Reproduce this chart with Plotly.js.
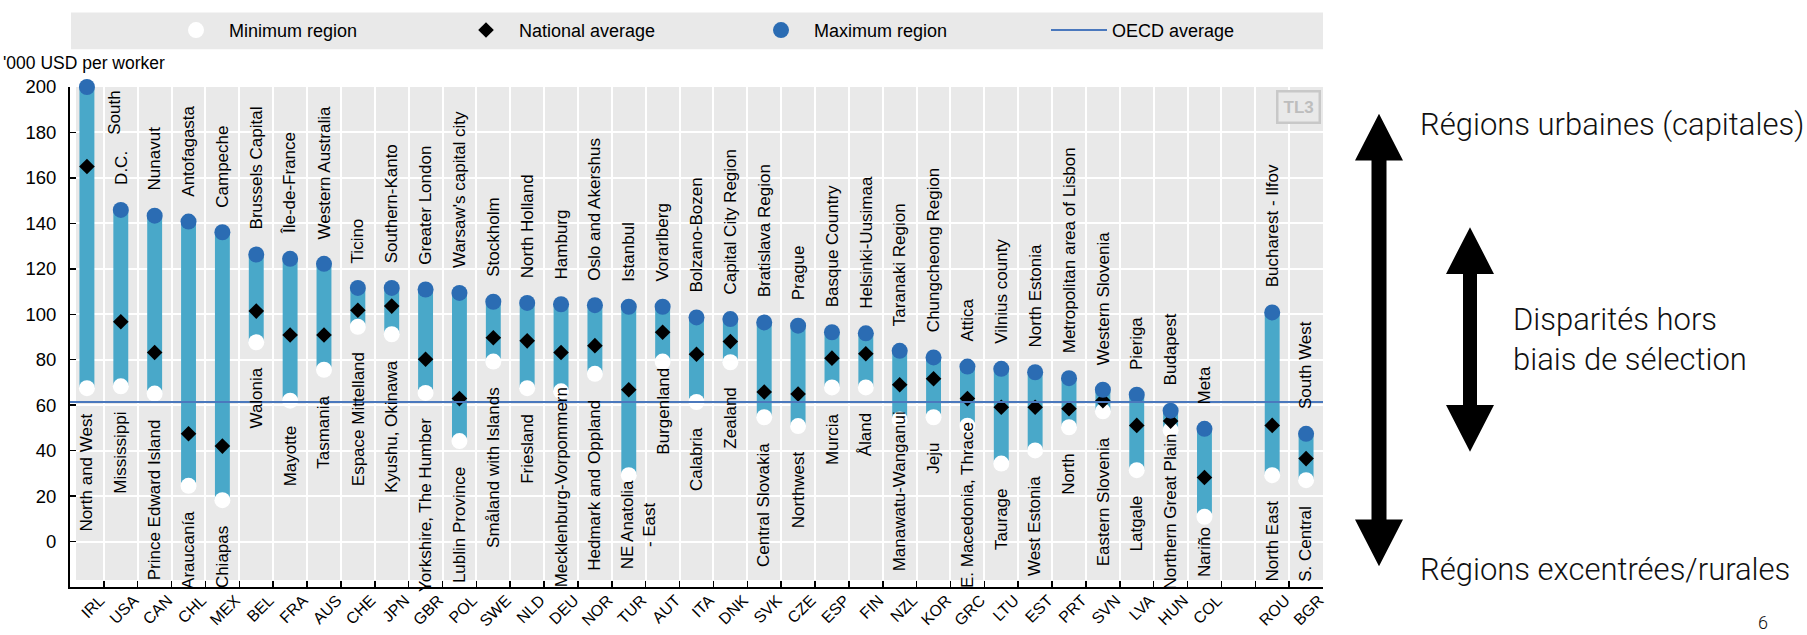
<!DOCTYPE html>
<html><head><meta charset="utf-8">
<script src="https://cdn.plot.ly/plotly-3.0.1.min.js"></script>
<style>html,body{margin:0;padding:0;background:#fff;} #chart{width:1807px;height:635px;}</style>
</head><body><div id="chart"></div>
<script>
// ---------------- DATA ----------------
const countries = ["IRL","USA","CAN","CHL","MEX","BEL","FRA","AUS","CHE","JPN","GBR","POL","SWE","NLD","DEU","NOR","TUR","AUT","ITA","DNK","SVK","CZE","ESP","FIN","NZL","KOR","GRC","LTU","EST","PRT","SVN","LVA","HUN","COL"," ","ROU","BGR"];
const minRegion   = [67.5,68.3,65.1,24.5,18.2,87.7,62.0,75.6,94.5,91.2,65.4,44.2,79.2,67.5,66.1,73.8,29.2,79.2,61.4,78.9,54.7,50.8,67.8,67.8,53.7,54.7,51.0,34.3,40.1,50.3,57.3,31.4,49.0,10.9,null,29.2,27.0];
const nationalAvg = [165.0,96.7,83.2,47.4,42.0,101.4,90.9,90.9,101.8,103.6,80.2,62.9,89.7,88.3,83.2,86.2,66.8,92.1,82.4,88.0,65.8,64.9,80.7,82.6,69.0,71.6,62.9,59.1,59.1,58.4,62.0,51.1,53.0,28.2,null,51.1,36.5];
const maxRegion   = [200.0,145.9,143.4,140.8,136.1,126.3,124.4,122.2,111.6,111.6,110.9,109.4,105.5,105.0,104.4,104.0,103.3,103.3,98.6,97.9,96.4,95.0,92.1,91.6,83.9,81.0,77.0,76.0,74.5,71.9,66.8,64.6,57.6,49.6,null,100.8,47.4];
const maxRegionNames = ["South","D.C.","Nunavut","Antofagasta","Campeche","Brussels Capital","Île-de-France","Western Australia","Ticino","Southern-Kanto","Greater London","Warsaw's capital city","Stockholm","North Holland","Hamburg","Oslo and Akershus","Istanbul","Vorarlberg","Bolzano-Bozen","Capital City Region","Bratislava Region","Prague","Basque Country","Helsinki-Uusimaa","Taranaki Region","Chungcheong Region","Attica","Vilnius county","North Estonia","Metropolitan area of Lisbon","Western Slovenia","Pieriga","Budapest","Meta",null,"Bucharest - Ilfov","South West"];
const minRegionNames = ["North and West","Mississippi","Prince Edward Island","Araucanía","Chiapas","Walonia","Mayotte","Tasmania","Espace Mittelland","Kyushu, Okinawa","Yorkshire, The Humber","Lublin Province","Småland with Islands","Friesland","Mecklenburg-Vorpommern","Hedmark and Oppland","NE Anatolia<br>- East","Burgenland","Calabria","Zealand","Central Slovakia","Northwest","Murcia","Åland","Manawatu-Wanganui","Jeju","E. Macedonia, Thrace","Taurage","West Estonia","North","Eastern Slovenia","Latgale","Northern Great Plain","Nariño",null,"North East","S. Central"];
const oecdAverage = 61.4;
const yTicks = [0,20,40,60,80,100,120,140,160,180,200];
const seriesNames = ["Minimum region","National average","Maximum region","OECD average"];
const yAxisLabel = "'000 USD per worker";
const sideTexts = ["Régions urbaines (capitales)","Disparités hors<br>biais de sélection","Régions excentrées/rurales"];
const pageNumber = "6";

// ---------------- LAYOUT HELPERS ----------------
const W = 1807, H = 635;
const M = {l:70, r:484, t:84, b:48};
const PW = W - M.l - M.r, PH = H - M.t - M.b;
const px = x => (x - M.l) / PW;
const py = y => (H - M.b - y) / PH;
const FONT = '"Liberation Sans",Arial,sans-serif';
const SIDEFONT = 'Roboto,"Liberation Sans",Arial,sans-serif';

const barColor = '#49a8c9', maxColor = '#2b6cb3', lineColor = '#4a78bd';

// label nudges (layout only): where the original chart moved a label
const labelNudge = {
  "IRL|max": {y: 178.5, xshift: 28},
  "TUR|min": {y: 27.5, xshift: 10},
  "DEU|min": {y: 68.3},
  "AUT|min": {y: 77.0},
  "NZL|min": {y: 57.6},
  "GRC|min": {y: 53.2},
  "HUN|min": {y: 47.8},
  "COL|min": {y: 7.0}
};

// ---------------- TRACES ----------------
const span = maxRegion.map((v,i) => (v==null||minRegion[i]==null) ? null : v - minRegion[i]);
const traces = [
  {type:'bar', x:countries, y:span, base:minRegion, width:0.44, marker:{color:barColor, line:{width:0}}, showlegend:false, hoverinfo:'skip'},
  {type:'scatter', mode:'markers', x:countries, y:minRegion, name:seriesNames[0], legend:'legend', marker:{symbol:'circle', size:16, color:'#ffffff', line:{width:0}}, cliponaxis:false},
  {type:'scatter', mode:'markers', x:countries, y:nationalAvg, name:seriesNames[1], legend:'legend2', marker:{symbol:'diamond', size:12, color:'#000000', line:{width:0}}, cliponaxis:false},
  {type:'scatter', mode:'markers', x:countries, y:maxRegion, name:seriesNames[2], legend:'legend3', marker:{symbol:'circle', size:16, color:maxColor, line:{width:0}}, cliponaxis:false},
  // empty trace that only carries the country-code label axis
  {type:'scatter', mode:'markers', x:[], y:[], xaxis:'x2', yaxis:'y', showlegend:false, hoverinfo:'skip'}
];

// ---------------- ANNOTATIONS ----------------
const labelFont = {family:FONT, size:17, color:'#000'};
const annotations = [];
countries.forEach((c,i) => {
  if (maxRegion[i] == null) return;
  const nMax = labelNudge[c+"|max"] || {};
  annotations.push({x:c, y:(nMax.y!=null ? nMax.y : maxRegion[i] + 10.5), xref:'x', yref:'y', text:maxRegionNames[i], textangle:-90,
    showarrow:false, xanchor:'center', yanchor:'bottom', xshift:nMax.xshift||0, font:labelFont, borderpad:0});
  const nMin = labelNudge[c+"|min"] || {};
  annotations.push({x:c, y:(nMin.y!=null ? nMin.y : minRegion[i] - 10.8), xref:'x', yref:'y', text:minRegionNames[i], textangle:-90,
    showarrow:false, xanchor:'center', yanchor:'top', xshift:nMin.xshift||0, font:labelFont, borderpad:0});
});
annotations.push({xref:'paper', yref:'paper', x:px(1), y:py(60), xanchor:'left', yanchor:'middle', text:yAxisLabel, showarrow:false, font:{family:FONT, size:17.5, color:'#000'}});
annotations.push({xref:'paper', yref:'paper', x:px(1298), y:py(104), xanchor:'center', yanchor:'middle', text:'<b>TL3</b>', showarrow:false,
  font:{family:FONT, size:17, color:'#bdbdbd'}, bordercolor:'#c8c8c8', borderwidth:2.5, borderpad:5, bgcolor:'#e9e9e9'});
const sideFont = {family:SIDEFONT, size:31, color:'#111', weight:300};
annotations.push({xref:'paper', yref:'paper', x:px(1418), y:py(122), xanchor:'left', yanchor:'middle', text:sideTexts[0], showarrow:false, font:sideFont});
annotations.push({xref:'paper', yref:'paper', x:px(1511), y:py(338), xanchor:'left', yanchor:'middle', text:sideTexts[1], showarrow:false, font:sideFont, align:'left'});
annotations.push({xref:'paper', yref:'paper', x:px(1418), y:py(569), xanchor:'left', yanchor:'middle', text:sideTexts[2], showarrow:false, font:sideFont});
annotations.push({xref:'paper', yref:'paper', x:px(1763), y:py(634), xanchor:'center', yanchor:'bottom', text:pageNumber, showarrow:false, font:{family:SIDEFONT, size:18, color:'#111', weight:300}, borderpad:0});

// ---------------- SHAPES ----------------
function dblArrow(cx, yTop, headTop, headBot, yBot, hw, sw) {
  const P = (x,y) => px(x) + ',' + py(y);
  return 'M' + P(cx,yTop) + 'L' + P(cx+hw,headTop) + 'L' + P(cx+sw,headTop) + 'L' + P(cx+sw,headBot) + 'L' + P(cx+hw,headBot) +
         'L' + P(cx,yBot) + 'L' + P(cx-hw,headBot) + 'L' + P(cx-sw,headBot) + 'L' + P(cx-sw,headTop) + 'L' + P(cx-hw,headTop) + 'Z';
}
const shapes = [
  {type:'rect', xref:'paper', yref:'paper', x0:px(76), x1:1, y0:py(580), y1:1, fillcolor:'#e9e9e9', line:{width:0}, layer:'below'},
  {type:'rect', xref:'paper', yref:'paper', x0:px(71), x1:1, y0:py(46), y1:py(9), fillcolor:'#e9e9e9', line:{width:0}, layer:'below'},
  {type:'line', xref:'paper', yref:'y', x0:0, x1:1, y0:oecdAverage, y1:oecdAverage, line:{color:lineColor, width:2}, layer:'above',
   showlegend:true, name:seriesNames[3], legend:'legend4'},
  {type:'path', xref:'paper', yref:'paper', path:dblArrow(1379,111,158,519,566,24,7.5), fillcolor:'#000', line:{width:0}},
  {type:'path', xref:'paper', yref:'paper', path:dblArrow(1470,225,272,404,451,24,7), fillcolor:'#000', line:{width:0}}
];

// country-code labels sit a little right of each category centre in the original
const labelShiftPx = 13;
const shiftU = labelShiftPx / (PW / countries.length);

const legendBase = {orientation:'h', xanchor:'left', y:py(27), yanchor:'middle', bgcolor:'rgba(0,0,0,0)',
  font:{family:FONT, size:18, color:'#000'}, itemwidth:56};
const layout = {
  width:W, height:H, margin:M, paper_bgcolor:'#fff', plot_bgcolor:'#fff',
  font:{family:FONT, size:17, color:'#000'},
  showlegend:true,
  legend: Object.assign({}, legendBase, {x:px(163)}),
  legend2: Object.assign({}, legendBase, {x:px(453)}),
  legend3: Object.assign({}, legendBase, {x:px(748)}),
  legend4: Object.assign({}, legendBase, {x:px(1046)}),
  xaxis:{type:'category', categoryorder:'array', categoryarray:countries, range:[-0.5, countries.length-0.5],
         tickson:'boundaries', ticks:'inside', ticklen:6, tickwidth:1.5, tickcolor:'#000',
         showline:true, linecolor:'#000', linewidth:2, showgrid:true, gridcolor:'#fff', gridwidth:2,
         showticklabels:false, fixedrange:true},
  xaxis2:{overlaying:'x', anchor:'y', side:'bottom', type:'linear',
          range:[-0.5 - shiftU, countries.length - 0.5 - shiftU],
          tickmode:'array', tickvals:countries.map((c,i)=>i), ticktext:countries,
          ticks:'', showline:false, showgrid:false, zeroline:false,
          tickangle:-45, tickfont:{family:FONT, size:16, color:'#000'}, fixedrange:true},
  yaxis:{range:[-20,200], tickvals:yTicks, ticks:'inside', ticklen:6, tickwidth:1.5, tickcolor:'#000',
         showline:true, linecolor:'#000', linewidth:2, showgrid:true, gridcolor:'#fff', gridwidth:2, zeroline:false,
         tickfont:{family:FONT, size:18.5, color:'#000'}, ticklabelstandoff:8, fixedrange:true},
  annotations:annotations, shapes:shapes
};
Plotly.newPlot('chart', traces, layout, {displayModeBar:false, staticPlot:true});
</script></body></html>
